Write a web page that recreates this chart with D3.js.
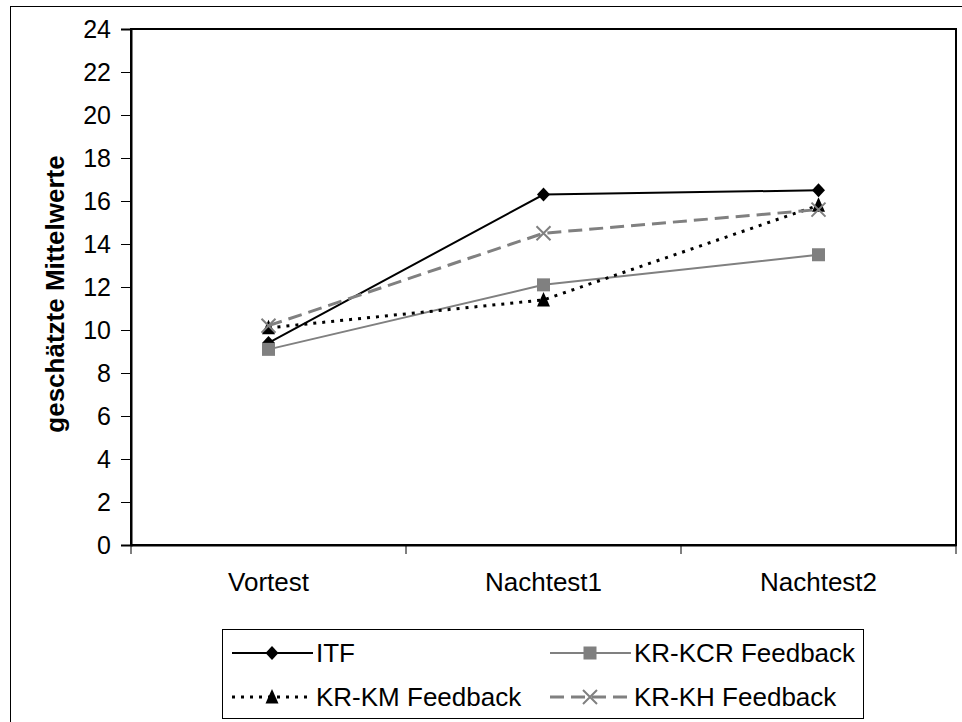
<!DOCTYPE html>
<html>
<head>
<meta charset="utf-8">
<script src="https://cdn.jsdelivr.net/npm/d3@7"></script>
<style>
  body { margin: 0; background: #fff; }
  svg { display: block; font-family: "Liberation Sans", Arial, sans-serif; }
</style>
</head>
<body>
<script>
// chart data
const categories = ["Vortest", "Nachtest1", "Nachtest2"];
const seriesNames = ["ITF", "KR-KCR Feedback", "KR-KM Feedback", "KR-KH Feedback"];
const itf = [9.4, 16.3, 16.5];
const krKcr = [9.1, 12.1, 13.5];
const krKm = [10.1, 11.4, 15.8];
const krKh = [10.2, 14.5, 15.6];
const yTicks = [0, 2, 4, 6, 8, 10, 12, 14, 16, 18, 20, 22, 24];

const w = 962, h = 722;
const plot = {left: 131, top: 29, right: 956, bottom: 545};
const fontFam = "Liberation Sans, Arial, sans-serif";

const svg = d3.select("body").append("svg")
    .attr("width", w)
    .attr("height", h);

// outer chart border (runs off the picture)
svg.append("rect")
    .attr("x", 10.5).attr("y", 6.5)
    .attr("width", 1000).attr("height", 1000)
    .attr("fill", "none").attr("stroke", "#000").attr("stroke-width", 1);

const xBand = d3.scaleBand()
    .domain(categories)
    .range([plot.left, plot.right]);

const yScale = d3.scaleLinear()
    .domain([0, 24])
    .range([plot.bottom, plot.top]);

const xPos = c => xBand(c) + xBand.bandwidth() / 2;

// plot area border
svg.append("rect")
    .attr("x", plot.left).attr("y", plot.top)
    .attr("width", plot.right - plot.left)
    .attr("height", plot.bottom - plot.top)
    .attr("fill", "none").attr("stroke", "#000").attr("stroke-width", 2);

// y axis
const yAxis = d3.axisLeft(yScale).tickValues(yTicks).tickSize(10).tickPadding(10);
const gy = svg.append("g")
    .attr("transform", "translate(" + plot.left + ",0)")
    .call(yAxis);
gy.select(".domain").attr("stroke-width", 2);
gy.selectAll("text").attr("font-size", 25).attr("fill", "#000")
    .attr("font-family", fontFam);

// x axis, ticks between categories
const xAxis = d3.axisBottom(xBand).tickSize(0).tickPadding(28);
const gx = svg.append("g")
    .attr("transform", "translate(0," + plot.bottom + ")")
    .call(xAxis);
gx.select(".domain").attr("stroke-width", 2);
gx.selectAll("text").attr("font-size", 26).attr("fill", "#000")
    .attr("font-family", fontFam);
gx.selectAll(".sep")
    .data(categories.concat([null]))
    .enter().append("line")
    .attr("class", "sep")
    .attr("x1", (d, i) => i < categories.length ? xBand(d) : plot.right)
    .attr("x2", (d, i) => i < categories.length ? xBand(d) : plot.right)
    .attr("y1", 0).attr("y2", 9)
    .attr("stroke", "#000");

// y title
svg.append("text")
    .attr("transform", "translate(64,294) rotate(-90)")
    .attr("text-anchor", "middle")
    .attr("font-size", 26)
    .attr("font-weight", "bold")
    .text("geschätzte Mittelwerte");

// styles per series
const styles = [
  {values: itf, color: "#000", width: 2, dash: null, marker: "diamond"},
  {values: krKcr, color: "#808080", width: 2, dash: null, marker: "square"},
  {values: krKm, color: "#000", width: 3, dash: "3,6", marker: "triangle"},
  {values: krKh, color: "#808080", width: 3, dash: "14,7", marker: "cross"}
];

function drawMarker(g, type, x, y, color) {
  if (type === "diamond") {
    g.append("path")
      .attr("d", "M" + x + "," + (y - 7) + "L" + (x + 6.5) + "," + y + "L" + x + "," + (y + 7) + "L" + (x - 6.5) + "," + y + "Z")
      .attr("fill", color);
  } else if (type === "square") {
    g.append("rect").attr("x", x - 6.5).attr("y", y - 6.5).attr("width", 13).attr("height", 13)
      .attr("fill", color);
  } else if (type === "triangle") {
    g.append("path").attr("d", "M" + x + "," + (y - 8) + "L" + (x + 6.5) + "," + (y + 6.5) + "L" + (x - 6.5) + "," + (y + 6.5) + "Z")
      .attr("fill", color);
  } else {
    g.append("path")
      .attr("d", "M" + (x - 7) + "," + (y - 7) + "L" + (x + 7) + "," + (y + 7) + "M" + (x + 7) + "," + (y - 7) + "L" + (x - 7) + "," + (y + 7))
      .attr("stroke", color).attr("stroke-width", 2).attr("fill", "none");
  }
}

const line = d3.line()
    .x((d, i) => xPos(categories[i]))
    .y(d => yScale(d));

styles.forEach(s => {
  const g = svg.append("g");
  g.append("path")
    .attr("d", line(s.values))
    .attr("fill", "none")
    .attr("stroke", s.color)
    .attr("stroke-width", s.width)
    .attr("stroke-dasharray", s.dash);
  s.values.forEach((v, i) => drawMarker(g, s.marker, xPos(categories[i]), yScale(v), s.color));
});

// legend
const legend = svg.append("g");
legend.append("rect")
    .attr("x", 222.5).attr("y", 629.5)
    .attr("width", 641).attr("height", 89)
    .attr("fill", "#fff").attr("stroke", "#000").attr("stroke-width", 1);

const legendPos = [[232, 653], [550, 653], [232, 697], [550, 697]];
styles.forEach((s, i) => {
  const [lx, ly] = legendPos[i];
  legend.append("line")
    .attr("x1", lx).attr("x2", lx + 81)
    .attr("y1", ly).attr("y2", ly)
    .attr("stroke", s.color)
    .attr("stroke-width", s.width)
    .attr("stroke-dasharray", s.dash);
  drawMarker(legend, s.marker, lx + 40, ly, s.color);
  legend.append("text")
    .attr("x", lx + 84).attr("y", ly + 9)
    .attr("font-size", 26)
    .text(seriesNames[i]);
});
</script>
</body>
</html>
